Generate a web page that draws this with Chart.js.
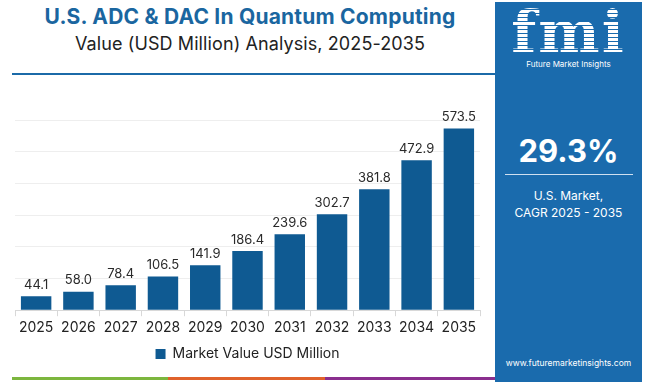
<!DOCTYPE html>
<html>
<head>
<meta charset="utf-8">
<script src="https://cdn.jsdelivr.net/npm/chart.js@4"></script>
<style>
  html, body { margin: 0; padding: 0; background: #fff; }
  body { width: 650px; height: 382px; position: relative; overflow: hidden; font-family: Inter, "Open Sans", sans-serif; }
  #title { position: absolute; left: 0; width: 500px; top: 4px; text-align: center; font-weight: 700; font-size: 21px; color: #1a66a0; letter-spacing: 0.2px; }
  #subtitle { position: absolute; left: 0; width: 500px; top: 33px; text-align: center; font-size: 18px; color: #222; letter-spacing: 0.1px; }
  #rule { position: absolute; left: 12px; top: 73px; width: 484px; height: 2px; background: #1b6aa8; }
  #chartWrap { position: absolute; left: 0; top: 95px; width: 494px; height: 276px; }
  #panel { position: absolute; left: 495px; top: 2px; width: 147px; height: 380px; background: #1a6bad; color: #fff; text-align: center; }
  #logo { position: absolute; left: 0; width: 147px; top: 0px; font-family: "DejaVu Serif", serif; font-weight: 700; font-size: 58px; letter-spacing: 2px;
          background: repeating-linear-gradient(180deg, #fff 0 3px, #1a6bad 3px 4px); -webkit-background-clip: text; background-clip: text; color: transparent; line-height: 60px; }
  #brand { position: absolute; left: 0; width: 147px; top: 57px; font-size: 8px; }
  #cagr { position: absolute; left: 0; width: 147px; top: 130px; font-size: 31px; font-weight: 700; }
  #prule { position: absolute; left: 10px; width: 128px; top: 172px; height: 1px; background: #cfe0f0; }
  #market { position: absolute; left: 0; width: 147px; top: 185px; font-size: 12px; line-height: 17px; }
  #url { position: absolute; left: 0; width: 147px; top: 356px; font-size: 8.5px; }
  .stripe { position: absolute; top: 377px; height: 3px; }
</style>
</head>
<body>
<div id="title">U.S. ADC &amp; DAC In Quantum Computing</div>
<div id="subtitle">Value (USD Million) Analysis, 2025-2035</div>
<div id="rule"></div>
<div id="chartWrap"><canvas id="chart"></canvas></div>
<div class="stripe" style="left:12px;width:156px;background:#7cb63e"></div>
<div class="stripe" style="left:168px;width:157px;background:#e0622b"></div>
<div class="stripe" style="left:325px;width:172px;background:#8a2f8e"></div>
<div id="panel">
  <div id="logo">fmi</div>
  <div id="brand">Future Market Insights</div>
  <div id="cagr">29.3%</div>
  <div id="prule"></div>
  <div id="market">U.S. Market,<br>CAGR 2025 - 2035</div>
  <div id="url">www.futuremarketinsights.com</div>
</div>
<script>
// Chart data
const years = ['2025', '2026', '2027', '2028', '2029', '2030', '2031', '2032', '2033', '2034', '2035'];
const marketValues = [44.1, 58.0, 78.4, 106.5, 141.9, 186.4, 239.6, 302.7, 381.8, 472.9, 573.5];
const seriesName = 'Market Value USD Million';
const barColor = '#0f5a92';

// Draw value labels above bars
const valueLabels = {
    id: 'valueLabels',
    afterDatasetsDraw(chart) {
        const ctx = chart.ctx;
        const meta = chart.getDatasetMeta(0);
        ctx.save();
        ctx.font = '13px Inter, "Open Sans", sans-serif';
        ctx.fillStyle = '#2a2a2a';
        ctx.textAlign = 'center';
        ctx.textBaseline = 'bottom';
        meta.data.forEach((bar, i) => {
            ctx.fillText(marketValues[i].toFixed(1), bar.x, bar.y - 5);
        });
        ctx.restore();
    }
};

new Chart(document.getElementById('chart'), {
    type: 'bar',
    data: {
        labels: years,
        datasets: [{
            label: seriesName,
            data: marketValues,
            backgroundColor: barColor,
            barPercentage: 0.72,
            categoryPercentage: 1
        }]
    },
    options: {
        responsive: true,
        maintainAspectRatio: false,
        animation: false,
        layout: { padding: { left: 15, right: 14, top: 25, bottom: 0 } },
        plugins: {
            legend: {
                position: 'bottom',
                labels: {
                    boxWidth: 10,
                    boxHeight: 10,
                    color: '#222',
                    padding: 8,
                    font: { family: 'Inter, "Open Sans", sans-serif', size: 14 }
                }
            },
            tooltip: { enabled: false }
        },
        scales: {
            x: {
                grid: { display: true, drawOnChartArea: false, drawTicks: true, tickLength: 6, color: '#d8d8d8', offset: true },
                border: { color: '#d8d8d8' },
                ticks: { color: '#222', padding: 3, font: { family: 'Inter, "Open Sans", sans-serif', size: 14 } }
            },
            y: {
                min: 0,
                max: 600,
                ticks: { display: false, stepSize: 100 },
                grid: { color: '#eeeeee', drawTicks: false },
                border: { display: false }
            }
        }
    },
    plugins: [valueLabels]
});
</script>
</body>
</html>
